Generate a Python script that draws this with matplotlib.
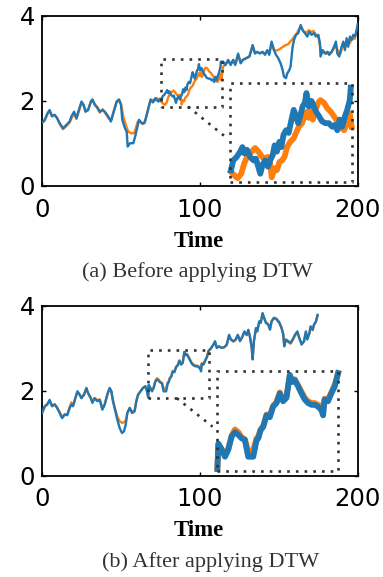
import numpy as np
import matplotlib
matplotlib.use("Agg")
import matplotlib.pyplot as plt

# ---------------- data ----------------
# Panel (a): before DTW
a_blue_t = [0, 1.9, 3.6, 5.0, 6.5, 8.2, 9.7, 11.4, 13.5, 15.6,
            17.7, 18.8, 20.5, 22.0, 23.5, 25.2, 26.6, 27.7, 29.4, 31.1,
            32.1, 33.6, 35.3, 36.8, 38.5, 40.0, 42.1, 43.8, 45.3, 47.4,
            48.9, 50.2, 51.0, 52.7, 53.8, 54.4, 55.9, 58.0, 59.1, 60.1,
            61.6, 63.3, 65.0, 66.5, 67.5, 68.9, 70.4, 71.9, 73.8, 75.0,
            75.8, 76.5, 77.6, 78.7, 79.4, 80.0, 80.8, 81.8, 82.9, 83.6,
            84.2, 85.0, 85.7, 86.5, 87.4, 88.1, 88.9, 89.5, 90.2, 91.0,
            91.6, 92.3, 93.1, 93.9, 94.8, 95.5, 96.2, 96.9, 97.6, 98.3,
            99.0, 99.5, 100.2, 101.1, 101.8, 102.5, 103.4, 104.4, 105.5, 106.5,
            107.6, 108.4, 109.2, 109.9, 110.7, 111.6, 112.3, 113.1, 113.4, 114.8,
            116.3, 118.0, 119.6, 121.1, 122.5, 124.3, 125.9, 127.4, 129.4, 131.5,
            133.5, 135.0, 136.4, 138.1, 139.8, 141.3, 142.8, 144.0, 145.5, 147.0,
            148.3, 149.7, 151.2, 152.5, 153.3, 154.6, 155.4, 156.7, 157.5, 158.8,
            159.7, 160.9, 162.4, 163.9, 165.1, 166.6, 168.1, 169.4, 170.8, 172.3,
            173.6, 175.1, 176.1, 176.5, 177.8, 179.3, 180.8, 182.0, 183.5, 185.0,
            186.2, 187.1, 188.3, 189.8, 190.9, 191.9, 193.0, 194.0, 195.1, 196.2,
            197.2, 198.3, 199.3, 200.0]
a_blue_v = [1.47, 1.55, 1.70, 1.78, 1.63, 1.67, 1.59, 1.47, 1.35, 1.43,
            1.51, 1.63, 1.74, 1.59, 1.78, 1.98, 1.90, 1.74, 1.78, 1.98,
            2.03, 1.90, 1.84, 1.74, 1.78, 1.74, 1.63, 1.51, 1.70, 1.98,
            2.03, 1.90, 1.55, 1.35, 1.27, 0.92, 1.00, 1.00, 1.15, 1.31,
            1.55, 1.47, 1.47, 1.67, 1.82, 2.03, 1.96, 2.06, 1.98, 2.05,
            1.99, 2.10, 2.14, 2.20, 2.25, 2.18, 2.22, 2.14, 2.10, 2.12,
            2.05, 1.95, 2.05, 2.10, 2.03, 2.10, 2.16, 2.27, 2.20, 2.31,
            2.25, 2.39, 2.44, 2.41, 2.56, 2.67, 2.60, 2.52, 2.61, 2.71,
            2.75, 2.86, 2.71, 2.77, 2.71, 2.65, 2.60, 2.54, 2.52, 2.52,
            2.48, 2.50, 2.44, 2.56, 2.48, 2.60, 2.67, 2.78, 2.92, 2.92,
            2.84, 2.96, 2.84, 2.96, 2.84, 3.11, 2.88, 2.96, 3.00, 3.04,
            3.31, 3.11, 3.15, 3.11, 3.15, 3.08, 3.19, 3.08, 3.39, 3.19,
            3.08, 3.00, 2.88, 2.72, 2.57, 2.53, 2.64, 2.72, 2.80, 3.27,
            3.43, 3.55, 3.59, 3.78, 3.66, 3.59, 3.51, 3.62, 3.55, 3.59,
            3.51, 3.55, 3.35, 3.04, 3.19, 3.11, 3.15, 3.08, 3.15, 3.27,
            3.39, 3.11, 3.04, 3.27, 3.39, 3.19, 3.47, 3.27, 3.51, 3.43,
            3.55, 3.51, 3.66, 3.80]

a_orange_t = [0, 1.9, 3.6, 5.0, 6.5, 8.2, 9.7, 11.4, 13.5, 15.6,
              17.7, 18.8, 20.5, 22.0, 23.5, 25.2, 26.6, 27.7, 29.4, 31.1,
              32.1, 33.6, 35.3, 36.8, 38.5, 40.0, 42.1, 43.8, 45.3, 47.4,
              48.9, 50.2, 51.7, 53.2, 54.8, 56.9, 58.6, 59.5, 60.8, 62.5,
              64.0, 65.5, 67.0, 68.5, 70.0, 71.5, 73.0, 74.5, 75.8, 76.9,
              77.9, 79.0, 80.0, 81.1, 82.3, 83.4, 84.4, 85.5, 86.3, 87.4,
              88.1, 88.6, 89.5, 90.2, 91.0, 91.8, 92.6, 93.4, 94.4, 95.5,
              96.2, 97.1, 98.1, 99.0, 99.7, 100.2, 101.1, 101.5, 102.3, 103.2,
              103.9, 105.0, 106.0, 107.1, 108.1, 109.2, 110.2, 111.3, 112.3, 113.1,
              113.7, 114.8, 116.9, 118.5, 120.0, 121.5, 123.0, 124.5, 126.0, 127.5,
              129.5, 131.5, 133.5, 135.0, 136.4, 138.1, 139.8, 141.3, 142.8, 144.0,
              145.5, 147.0, 148.5, 150.0, 152.0, 154.0, 156.0, 157.5, 158.8, 160.0,
              161.5, 163.0, 164.5, 166.0, 167.5, 169.0, 170.5, 172.0, 173.6, 175.1,
              176.1, 177.0, 178.5, 180.0, 181.5, 183.0, 184.5, 186.0, 187.5, 189.0,
              190.5, 192.0, 193.5, 195.0, 196.5, 198.0, 199.3, 200.0]
a_orange_v = [1.47, 1.53, 1.68, 1.76, 1.65, 1.66, 1.60, 1.45, 1.33, 1.40,
              1.49, 1.58, 1.70, 1.57, 1.75, 1.95, 1.88, 1.76, 1.80, 1.96,
              2.01, 1.92, 1.82, 1.72, 1.80, 1.72, 1.60, 1.53, 1.72, 1.96,
              2.02, 1.92, 1.62, 1.43, 1.27, 1.23, 1.24, 1.35, 1.51, 1.50,
              1.45, 1.52, 1.75, 1.95, 2.02, 2.00, 2.06, 2.00, 1.97, 1.93,
              1.90, 1.95, 2.07, 2.16, 2.20, 2.24, 2.20, 2.14, 2.12, 2.14,
              2.07, 1.91, 2.01, 1.99, 2.08, 2.10, 2.14, 2.25, 2.31, 2.35,
              2.41, 2.48, 2.52, 2.61, 2.65, 2.58, 2.67, 2.56, 2.67, 2.75,
              2.78, 2.75, 2.69, 2.65, 2.60, 2.54, 2.48, 2.44, 2.52, 2.63,
              2.48, 2.80, 2.88, 2.92, 2.88, 2.95, 2.90, 3.05, 2.92, 2.97,
              3.00, 3.05, 3.28, 3.12, 3.14, 3.12, 3.14, 3.10, 3.18, 3.10,
              3.36, 3.20, 3.18, 3.20, 3.25, 3.30, 3.33, 3.40, 3.45, 3.52,
              3.58, 3.70, 3.72, 3.62, 3.60, 3.66, 3.62, 3.64, 3.55, 3.50,
              3.30, 3.12, 3.15, 3.10, 3.14, 3.12, 3.20, 3.30, 3.18, 3.10,
              3.30, 3.25, 3.40, 3.35, 3.48, 3.45, 3.60, 3.75]

# Panel (b): after DTW (shared time axis for both series)
b_t = [0.2, 1.9, 3.6, 5.0, 6.5, 8.2, 9.7, 11.4, 12.9, 14.5,
       16.2, 17.7, 18.8, 19.8, 21.3, 22.6, 24.0, 25.1, 26.8, 28.3,
       29.3, 31.0, 32.1, 33.5, 35.2, 36.7, 38.4, 39.9, 41.5, 43.0,
       44.1, 45.1, 46.6, 47.9, 49.3, 50.8, 52.1, 53.2, 54.2, 55.7,
       57.2, 58.8, 59.9, 61.0, 62.6, 64.1, 65.6, 66.5, 67.4, 67.7,
       68.75, 69.8, 70.85, 71.9, 72.95, 74.0, 75.05, 76.1, 77.15, 78.75,
       79.8, 80.35, 81.05, 81.9, 82.95, 84.0, 85.05, 86.1, 87.15, 88.2,
       89.25, 90.3, 91.15, 91.9, 92.95, 94.0, 95.05, 96.1, 97.15, 98.2,
       99.25, 100.3, 100.85, 101.35, 102.4, 103.45, 104.55, 105.6, 107.2, 108.7,
       109.7, 110.8, 112.2, 113.9, 115.6, 117.1, 118.6, 119.8, 121.3, 122.8,
       124.1, 125.5, 127.0, 128.3, 129.8, 130.8, 131.9, 132.9, 133.5, 134.3,
       135.6, 136.4, 137.7, 138.6, 139.8, 140.7, 141.9, 143.4, 144.5, 145.5,
       147.0, 148.7, 150.4, 151.8, 152.9, 153.5, 154.6, 156.1, 157.5, 158.8,
       160.3, 161.8, 163.0, 164.5, 166.0, 167.2, 168.1, 169.4, 170.2, 171.5,
       172.3, 173.6, 174.6]
b_blue_v = [1.47, 1.63, 1.67, 1.78, 1.63, 1.67, 1.59, 1.47, 1.35, 1.43,
            1.42, 1.59, 1.67, 1.63, 1.82, 1.98, 1.90, 1.82, 1.90, 2.06,
            1.94, 1.82, 1.71, 1.82, 1.75, 1.78, 1.55, 1.67, 1.90, 2.06,
            1.98, 1.75, 1.51, 1.31, 1.12, 1.00, 1.04, 1.20, 1.47, 1.59,
            1.47, 1.51, 1.75, 1.90, 1.98, 2.06, 2.10, 2.00, 1.84, 2.13,
            2.06, 1.98, 2.06, 2.21, 2.26, 2.23, 2.19, 2.17, 1.98, 1.98,
            2.17, 2.19, 2.28, 2.32, 2.45, 2.43, 2.55, 2.59, 2.70, 2.61,
            2.65, 2.91, 2.83, 2.85, 2.78, 2.70, 2.63, 2.59, 2.57, 2.57,
            2.55, 2.51, 2.45, 2.63, 2.61, 2.70, 2.78, 2.93, 3.00, 3.08,
            3.16, 3.00, 3.04, 3.00, 3.02, 3.08, 3.31, 3.20, 3.16, 3.20,
            3.31, 3.16, 3.27, 3.39, 3.31, 3.43, 3.24, 3.00, 2.73, 3.16,
            3.47, 3.39, 3.63, 3.59, 3.82, 3.71, 3.59, 3.55, 3.43, 3.63,
            3.71, 3.67, 3.59, 3.47, 3.31, 3.04, 3.20, 3.16, 3.12, 3.20,
            3.31, 3.39, 3.24, 3.08, 3.16, 3.39, 3.20, 3.35, 3.51, 3.43,
            3.55, 3.63, 3.78]
b_orange_v = [1.47, 1.61, 1.69, 1.76, 1.65, 1.68, 1.61, 1.49, 1.37, 1.44,
              1.44, 1.60, 1.72, 1.65, 1.82, 1.97, 1.91, 1.83, 1.91, 2.05,
              1.95, 1.84, 1.73, 1.82, 1.77, 1.79, 1.58, 1.68, 1.90, 2.05,
              1.98, 1.77, 1.55, 1.38, 1.28, 1.24, 1.25, 1.30, 1.47, 1.59,
              1.49, 1.53, 1.75, 1.91, 1.99, 2.06, 2.10, 2.01, 1.85, 2.12,
              2.07, 2.01, 2.07, 2.22, 2.29, 2.26, 2.20, 2.18, 2.04, 2.06,
              2.19, 2.21, 2.29, 2.33, 2.46, 2.45, 2.56, 2.60, 2.71, 2.62,
              2.66, 2.90, 2.84, 2.86, 2.79, 2.72, 2.65, 2.61, 2.59, 2.59,
              2.57, 2.55, 2.56, 2.64, 2.63, 2.71, 2.80, 2.93, 2.99, 3.08,
              3.14, 3.01, 3.03, 3.01, 3.02, 3.07, 3.28, 3.20, 3.15, 3.19,
              3.30, 3.17, 3.26, 3.37, 3.30, 3.41, 3.25, 3.02, 2.78, 3.15,
              3.45, 3.40, 3.61, 3.60, 3.79, 3.72, 3.61, 3.56, 3.45, 3.62,
              3.71, 3.69, 3.61, 3.48, 3.33, 3.08, 3.18, 3.14, 3.10, 3.18,
              3.29, 3.37, 3.24, 3.10, 3.15, 3.37, 3.22, 3.33, 3.49, 3.42,
              3.53, 3.62, 3.76]

x_ticks = [0, 100, 200]
y_ticks = [0, 2, 4]
x_label = "Time"
captions = ["(a) Before applying DTW", "(b) After applying DTW"]

# zoom regions (x0, x1, y0, y1): source window and magnified copy
a_src = (75.5, 113.9, 1.86, 2.97)
a_dst = (119.2, 196.6, 0.094, 2.41)
a_link = ((92.6, 116.6), (1.86, 1.14))
b_src = (67.3, 105.6, 1.82, 2.95)
b_dst = (111.0, 187.6, 0.11, 2.45)
b_link = ((85.5, 108.1), (1.82, 1.15))

# ---------------- style ----------------
BLUE = "#1f77b4"
ORANGE = "#ff7f0e"
DOT = "#333333"
DOTSTYLE = (0, (1, 2.3))

W, H = 383, 577
fig = plt.figure(figsize=(W / 100, H / 100), dpi=100)


def to_inset(t, v, src, dst):
    t = np.asarray(t, float)
    v = np.asarray(v, float)
    m = (t >= src[0] - 0.3) & (t <= src[1] + 0.3)
    sx = (dst[1] - dst[0]) / (src[1] - src[0])
    sy = (dst[3] - dst[2]) / (src[3] - src[2])
    return dst[0] + (t[m] - src[0]) * sx, dst[2] + (v[m] - src[2]) * sy


def rect(ax, r):
    x0, x1, y0, y1 = r
    ax.plot([x0, x1, x1, x0, x0], [y0, y0, y1, y1, y0], ls=DOTSTYLE,
            lw=1.9, color=DOT, zorder=5, solid_capstyle="butt")


def panel(top_px, ot, ov, bt, bv, src, dst, link, cap, time_base, cap_base, cap_x):
    left, right = 41.7, 357.7
    height = 170.0
    ax = fig.add_axes([left / W, 1 - (top_px + height) / H,
                       (right - left) / W, height / H])
    ax.plot(ot, ov, color=ORANGE, lw=1.7, zorder=2)
    ax.plot(bt, bv, color=BLUE, lw=1.7, zorder=3)
    ix, iy = to_inset(ot, ov, src, dst)
    ax.plot(ix, iy, color=ORANGE, lw=4.2, zorder=2, solid_joinstyle="round")
    ix, iy = to_inset(bt, bv, src, dst)
    ax.plot(ix, iy, color=BLUE, lw=4.2, zorder=3, solid_joinstyle="round")
    rect(ax, src)
    rect(ax, dst)
    ax.plot(link[0], link[1], ls=DOTSTYLE, lw=1.9, color=DOT, zorder=5)
    ax.set_xlim(0, 200)
    ax.set_ylim(0, 4)
    ax.set_xticks(x_ticks)
    ax.set_yticks(y_ticks)
    ax.tick_params(direction="in", top=True, right=True, length=3, width=1,
                   labelsize=17.5, colors="black")
    ax.tick_params(axis="x", pad=8.5)
    ax.tick_params(axis="y", pad=5)
    for lab in ax.get_xticklabels() + ax.get_yticklabels():
        lab.set_fontfamily("DejaVu Sans")
    for s in ax.spines.values():
        s.set_linewidth(1.3)
        s.set_color("black")
    fig.text(198.5 / W, 1 - time_base / H, x_label, ha="center", va="baseline",
             family="Liberation Serif", fontweight="bold", fontsize=16.5,
             color="black")
    fig.text(cap_x / W, 1 - cap_base / H, cap, ha="center", va="baseline",
             family="Liberation Serif", fontsize=16, color="#333333")
    return ax


panel(15.7, a_orange_t, a_orange_v, a_blue_t, a_blue_v, a_src, a_dst, a_link,
      captions[0], 247.0, 276.5, 197.5)
panel(305.5, b_t, b_orange_v, b_t, b_blue_v, b_src, b_dst, b_link,
      captions[1], 536.5, 567.0, 211.0)

fig.savefig("out.png", dpi=100)
